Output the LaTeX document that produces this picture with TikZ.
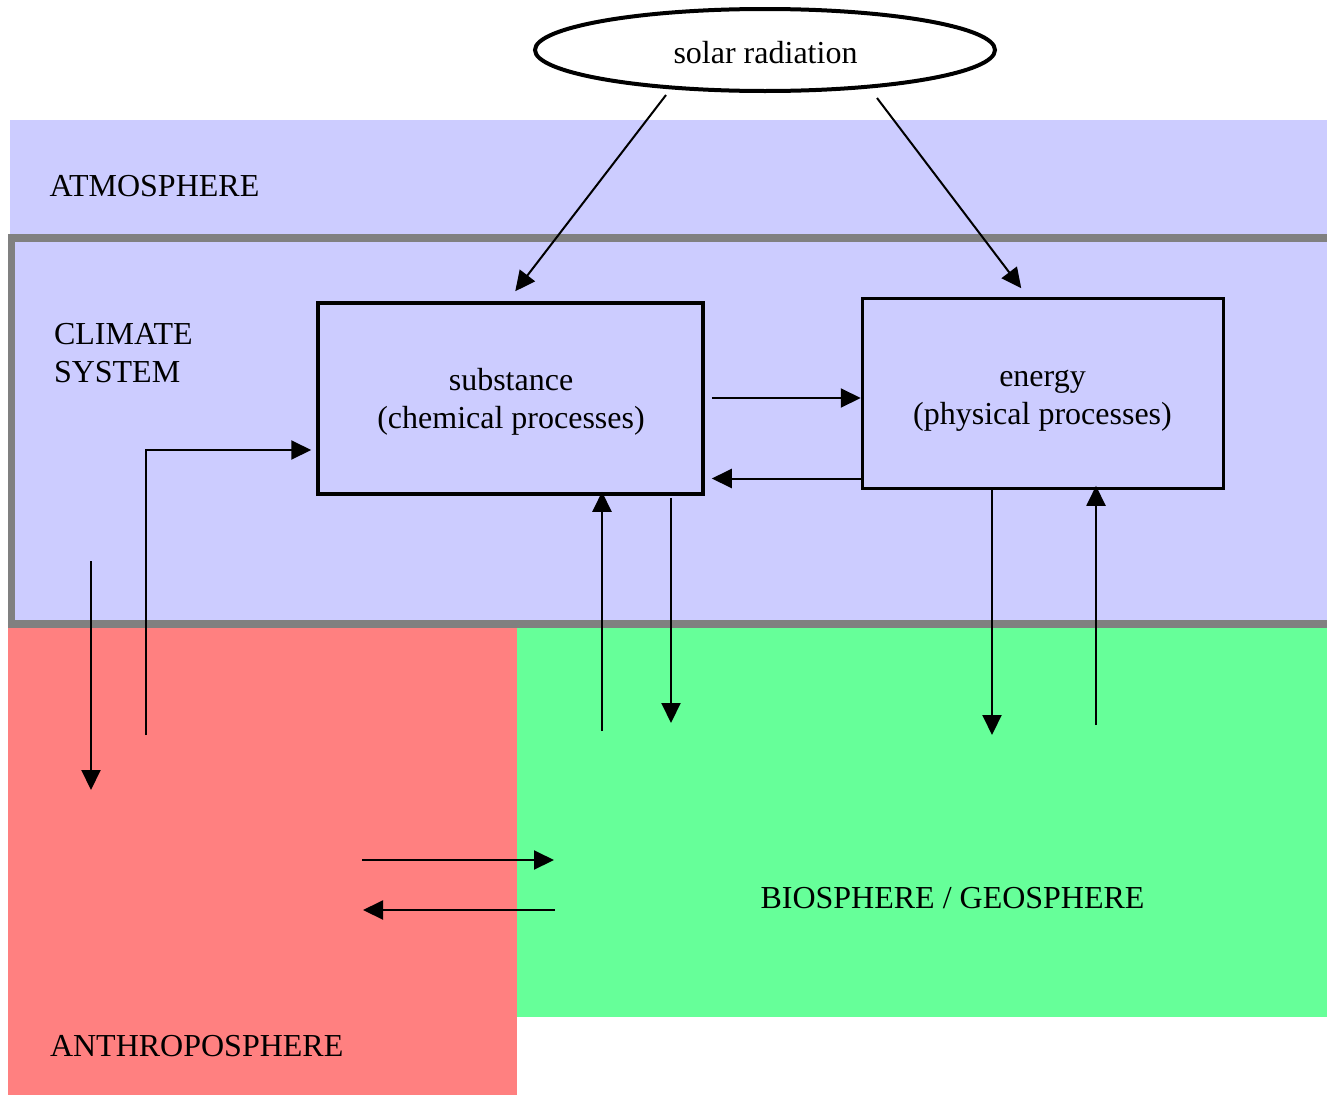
\documentclass[tikz,border=0pt]{standalone}
\usepackage{fontspec}
\setmainfont{Liberation Serif}
\usetikzlibrary{arrows.meta,shapes.geometric,calc}
\definecolor{atmo}{HTML}{CCCCFF}
\definecolor{anthro}{HTML}{FF8080}
\definecolor{bio}{HTML}{66FF99}
\definecolor{frame}{HTML}{808080}
\begin{document}
\begin{tikzpicture}[x=1pt,y=-1pt,
  lbl/.style={font=\fontsize{32}{38.5}\selectfont, inner sep=0pt, outer sep=0pt},
  proc/.style={draw=black, line width=3.5pt, inner sep=0pt},
  arr/.style={line width=2pt, -{Triangle[length=20pt,width=19pt]}}]
\useasboundingbox (0,0) rectangle (1327,1095);

% spheres
\fill[atmo] (10,120) rectangle (1327,624);
\fill[anthro] (8,624) rectangle (517,1095);
\fill[bio] (517,624) rectangle (1327,1017);
\draw[frame, line width=7.5pt] (1340,238) -- (11.5,238) -- (11.5,624) -- (1340,624);

% sphere labels
\node[lbl, anchor=base west] (atm) at (49.5,196.5) {ATMOSPHERE};
\node[lbl, anchor=base west] (cs1) at (54,344) {CLIMATE};
\node[lbl, anchor=base west] (cs2) at (54,382.5) {SYSTEM};
\node[lbl, anchor=base west] (bio) at (760.5,908.5) {BIOSPHERE / GEOSPHERE};
\node[lbl, anchor=base west] (ant) at (50,1056.5) {ANTHROPOSPHERE};

% solar radiation
\node[draw, ellipse, line width=4pt, inner sep=0pt, minimum width=460pt, minimum height=82pt] (sun) at (765,50) {};
\node[lbl, anchor=base] (suntxt) at (765.5,63) {solar radiation};

% process boxes
\node[proc, minimum width=385pt, minimum height=191pt] (sub) at (510.5,398.5) {};
\node[lbl, anchor=base] (sub1) at (511,390) {substance};
\node[lbl, anchor=base] (sub2) at (511,428) {(chemical processes)};
\node[proc, minimum width=361pt, minimum height=190pt] (en) at (1043,393.5) {};
\node[lbl, anchor=base] (en1) at (1042.5,386) {energy};
\node[lbl, anchor=base] (en2) at (1042.5,424.5) {(physical processes)};

% free ends of connectors
\coordinate (sunA) at (666,95);
\coordinate (sunB) at (877,98);
\coordinate (antUp) at (146,735);
\coordinate (csDnA) at (91,561);
\coordinate (csDnB) at (91,790);
\coordinate (bioUpA) at (602,731);
\coordinate (bioDnA) at (671,723);
\coordinate (bioDnB) at (992,735);
\coordinate (bioUpB) at (1096,725);
\coordinate (exA1) at (362,860);
\coordinate (exA2) at (554,860);
\coordinate (exB1) at (555,910);
\coordinate (exB2) at (363,910);

% radiation input
\draw[arr] (sunA) -- ($(sub.north west)+(199,-10)$);
\draw[arr] (sunB) -- ($(en.north west)+(160.5,-8.5)$);

% exchange between substance and energy
\draw[arr] ($(sub.east)+(7,-0.5)$) -- ($(en.west)+(0,4.5)$);
\draw[arr] ($(en.west)+(0,85)$) -- ($(sub.east)+(7,80)$);

% anthroposphere links
\draw[arr] (antUp) |- ($(sub.west)+(-5,51.5)$);
\draw[arr] (csDnA) -- (csDnB);

% biosphere / geosphere links
\draw[arr] (bioUpA) -- ($(sub.south)+(91.5,-4)$);
\draw[arr] ($(sub.south)+(160.5,2)$) -- (bioDnA);
\draw[arr] ($(en.south)+(-51,-1.5)$) -- (bioDnB);
\draw[arr] (bioUpB) -- ($(en.south)+(53,-4.5)$);

% anthroposphere <-> biosphere
\draw[arr] (exA1) -- (exA2);
\draw[arr] (exB1) -- (exB2);
\end{tikzpicture}
\end{document}
